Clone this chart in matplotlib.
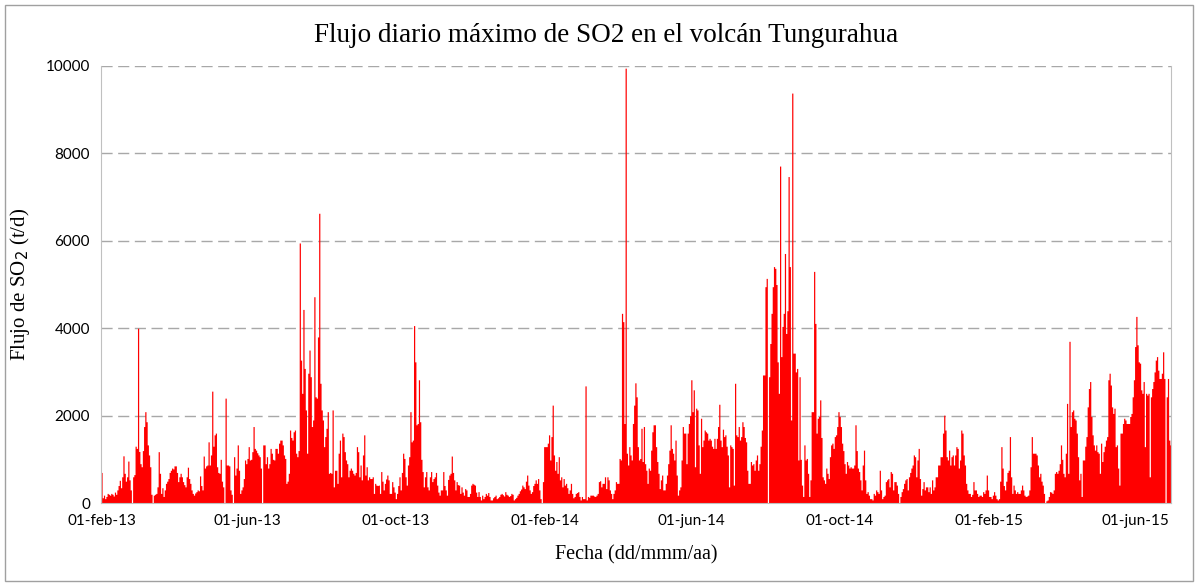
import numpy as np
import pandas as pd
import matplotlib
matplotlib.use("Agg")
import matplotlib.pyplot as plt
from matplotlib.patches import Rectangle

# flujo diario maximo de SO2 (t/d), a partir del 01-feb-2013
FECHA_INICIO = "2013-02-01"

flujo_1 = [700, 120, 180, 100, 150, 220, 200, 180, 220, 200,
           160, 250, 200, 300, 400, 520, 350, 600, 1080, 680,
           500, 600, 960, 530, 300, 0, 600, 650, 1300, 1250,
           4000, 1180, 900, 830, 1200, 1750, 2090, 1860, 1330, 1100,
           830, 200, 0, 180, 200, 220, 370, 1175, 680, 220,
           350, 150, 300, 450, 500, 560, 700, 750, 800, 780,
           850]
flujo_2 = [850, 700, 490, 600, 680, 600, 490, 420, 370, 600,
           820, 560, 450, 300, 220, 180, 230, 260, 300, 280,
           620, 400, 300, 1075, 800, 850, 870, 1400, 870, 1100,
           2560, 1300, 1560, 1600, 830, 700, 680, 1000, 500, 370,
           0, 2400, 870, 870, 850, 300, 200, 0, 1060, 640,
           800, 1330, 750, 220, 300, 370, 560, 985, 900, 1020,
           1290, 985, 1000, 1175, 1750, 1250, 1210, 1150, 1100, 1060,
           800, 0, 1330, 1330, 900, 1060, 800, 900, 1250, 1140,
           1000, 985, 1250]
flujo_3 = [1250, 1140, 1370, 1440, 1440, 1330, 1100, 1020, 450, 500,
           680, 1670, 1500, 1440, 1630, 1670, 1140, 1060, 1200, 5950,
           3270, 2510, 4430, 3080, 2130, 1140, 2970, 3500, 2890, 1750,
           1900, 4720, 2430, 2400, 3800, 6630, 2740, 2130, 1900, 1290,
           1520, 1710, 2090, 680, 700, 680, 2130, 370, 750, 750,
           450, 1140, 1440, 600, 1600, 1520, 1175, 985, 900, 600,
           750, 800, 750, 680, 640, 700, 1290, 1175, 600, 870,
           530, 1100, 1560, 640, 830, 530, 600, 560, 560, 600,
           220, 450]
flujo_4 = [410, 400, 410, 220, 720, 500, 300, 450, 550, 640,
           530, 220, 220, 490, 370, 250, 100, 220, 400, 600,
           300, 700, 1140, 1020, 600, 410, 870, 1060, 2090, 1400,
           1440, 4060, 3230, 1790, 1820, 2820, 1860, 1000, 720, 370,
           600, 720, 370, 300, 600, 720, 490, 560, 600, 700,
           410, 250, 180, 300, 300, 720, 400, 300, 180, 540,
           640, 680, 1075, 700, 530, 300, 490, 420, 410, 220,
           370, 250, 180, 330, 300, 150, 150, 220, 410, 450,
           430, 410]
flujo_5 = [250, 150, 260, 150, 70, 180, 100, 150, 220, 180,
           240, 150, 70, 70, 120, 150, 180, 100, 120, 150,
           200, 220, 190, 160, 260, 200, 180, 150, 170, 220,
           200, 70, 100, 130, 180, 220, 280, 320, 410, 370,
           330, 500, 640, 410, 300, 220, 260, 400, 450, 530,
           450, 560, 300, 100, 0, 490, 1290, 1290, 1290, 1370,
           1560, 985, 1520, 2240, 1100, 750, 950, 680, 1060, 530,
           600, 370, 560, 410, 450, 350, 220, 300, 450, 220,
           120, 150]
flujo_6 = [220, 240, 260, 150, 70, 150, 100, 100, 2680, 70,
           150, 130, 180, 180, 180, 160, 150, 180, 220, 490,
           510, 370, 450, 450, 600, 330, 600, 530, 300, 220,
           100, 220, 300, 490, 450, 450, 1020, 985, 4340, 4150,
           1820, 9950, 1140, 870, 1290, 1100, 985, 1820, 2240, 2750,
           2430, 1290, 985, 1020, 1710, 950, 1750, 900, 750, 450,
           800, 750, 1210, 1630, 1790, 1790, 1290, 950, 680, 330,
           530, 640, 300, 300, 450, 640, 900, 1210, 1790, 1250,
           1140, 985]
flujo_7 = [1440, 640, 180, 300, 370, 985, 1750, 1600, 1600, 900,
           1600, 1820, 2000, 2820, 2090, 2590, 830, 2170, 2130, 1330,
           680, 1940, 1290, 1440, 1670, 1630, 1600, 1440, 1480, 1440,
           1300, 1250, 1480, 1250, 1480, 1750, 2260, 1440, 1290, 1690,
           1520, 1560, 1300, 1100, 370, 1330, 1290, 1250, 410, 2740,
           1560, 1520, 1750, 1440, 1520, 1860, 1750, 1500, 1400, 750,
           450, 450, 950, 870, 900, 750, 985, 1100, 750, 900,
           1300, 1670, 2930, 2930, 4950, 5140, 0, 2890, 3650, 4340,
           4950, 5410]
flujo_8 = [5370, 5000, 3230, 2510, 7710, 3350, 4040, 4340, 5710, 3880,
           4400, 7470, 5410, 1900, 9380, 3430, 3430, 3000, 3080, 985,
           2890, 1000, 410, 150, 1330, 985, 1020, 680, 150, 530,
           2090, 2090, 5300, 4110, 1600, 1940, 1980, 2360, 1500, 600,
           530, 450, 800, 680, 560, 1060, 1330, 1370, 1250, 1520,
           1560, 1750, 2090, 1980, 1750, 1370, 1200, 900, 680, 950,
           870, 800, 830, 800, 800, 870, 1790, 1200, 800, 720,
           530, 300, 870, 1210, 530, 220, 260, 180, 100, 100,
           70, 220]
flujo_9 = [180, 300, 260, 220, 750, 300, 100, 150, 180, 490,
           530, 560, 370, 720, 680, 300, 490, 490, 410, 220,
           0, 150, 260, 330, 450, 530, 560, 300, 600, 700,
           800, 870, 1100, 1060, 600, 985, 1250, 560, 180, 330,
           490, 300, 370, 370, 260, 370, 220, 530, 300, 370,
           600, 600, 870, 870, 1060, 1060, 1600, 2010, 1670, 1060,
           985, 1210, 870, 1060, 1100, 870, 1100, 1290, 1250, 800,
           985, 1670, 1600, 1100, 870, 450, 300, 220, 220, 150,
           200, 490]
flujo_10 = [300, 300, 220, 150, 180, 180, 150, 260, 220, 300,
            640, 300, 150, 150, 100, 180, 260, 180, 100, 70,
            100, 500, 1290, 800, 400, 300, 500, 700, 750, 1520,
            600, 220, 410, 300, 220, 260, 220, 220, 300, 410,
            300, 180, 150, 160, 180, 300, 830, 1520, 1140, 1140,
            1140, 1100, 870, 600, 680, 500, 410, 220, 0, 50,
            70, 150, 260, 250, 220, 300, 680, 720, 680, 750,
            900, 1330, 1000, 680, 600, 1140, 2280, 680, 3700, 1750,
            2090, 2130]
flujo_11 = [1940, 1900, 1600, 1060, 530, 680, 150, 985, 985, 1300,
            1520, 2200, 2620, 2780, 1980, 1560, 1330, 1210, 1330, 1175,
            1140, 680, 1370, 950, 1175, 1300, 1440, 1520, 2820, 2970,
            2700, 2200, 2050, 2170, 1290, 1330, 800, 410, 1600, 1600,
            1820, 1940, 1900, 1820, 1820, 1820, 1980, 2050, 2430, 2820,
            3580, 4270, 3620, 3230, 3200, 2590, 2510, 2780, 1290, 2510,
            2470, 2510, 600, 2430, 2620, 2780, 3000, 3270, 3350, 3040,
            2850, 2850, 2970, 3460, 2850, 0, 2430, 2850, 1440, 1330]

y_ticks = [0, 2000, 4000, 6000, 8000, 10000]
meses = {2: "feb", 6: "jun", 10: "oct"}

flujo = np.array(flujo_1 + flujo_2 + flujo_3 + flujo_4 + flujo_5 + flujo_6 +
                 flujo_7 + flujo_8 + flujo_9 + flujo_10 + flujo_11, dtype=float)
fechas = pd.date_range(FECHA_INICIO, periods=len(flujo), freq="D")

serif = ["Liberation Serif", "DejaVu Serif"]
sans = ["Lato", "DejaVu Sans"]

fig = plt.figure(figsize=(11.98, 5.86), dpi=100)
fig.patches.append(Rectangle((0.004, 0.008), 0.992, 0.984, transform=fig.transFigure,
                             fill=False, edgecolor="#a0a0a0", linewidth=1.0))
ax = fig.add_axes([0.0843, 0.1416, 0.8932, 0.7458])

ax.fill_between(fechas, flujo, step="mid", color="#ff0000", linewidth=0)

ax.set_ylim(0, 10000)
ax.set_xlim(fechas[0] - pd.Timedelta(hours=12), fechas[-1] + pd.Timedelta(hours=12))
ax.set_yticks(y_ticks)
ax.set_yticklabels([str(v) for v in y_ticks], family=sans, fontsize=11)

x_ticks = pd.date_range("2013-02-01", "2015-06-01", freq="4MS")
ax.set_xticks(x_ticks)
ax.set_xticklabels([f"{d:%d}-{meses[d.month]}-{d:%y}" for d in x_ticks],
                   family=sans, fontsize=11)
ax.tick_params(length=0, pad=8, colors="#000000")

for v in y_ticks[1:]:
    ax.axhline(v, color="#a8a8a8", linewidth=1.0, dashes=(8, 4), zorder=0)

for s in ["left", "bottom", "right"]:
    ax.spines[s].set_color("#c0c0c0")
ax.spines["top"].set_visible(False)

fig.text(0.506, 0.94, "Flujo diario máximo de SO2 en el volcán Tungurahua",
         family=serif, fontsize=19.5, ha="center", va="center")
ax.set_ylabel("Flujo de SO$_2$ (t/d)", family=serif, fontsize=15, labelpad=10)
ax.set_xlabel("Fecha (dd/mmm/aa)", family=serif, fontsize=14.5, labelpad=12)

fig.savefig("out.png", dpi=100)
